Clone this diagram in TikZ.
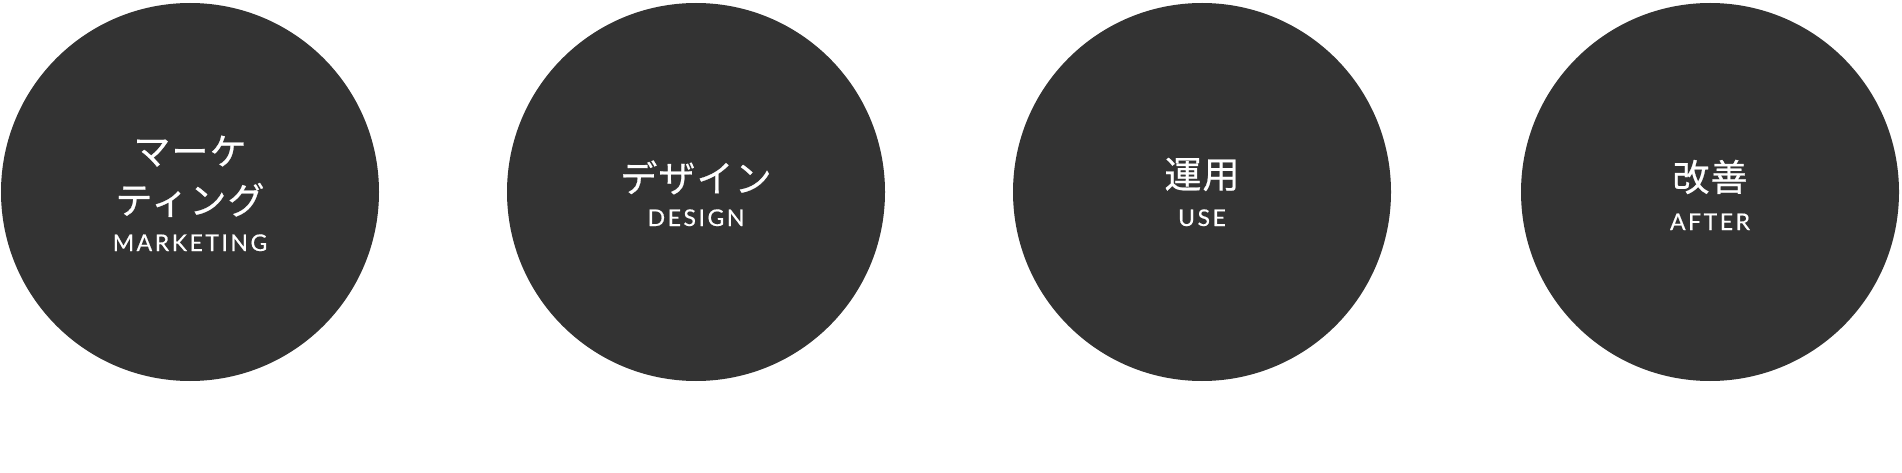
\documentclass[tikz,border=0pt]{standalone}
\usepackage{fontspec}
\setmainfont{Lato}
\newfontfamily\jpfont[LetterSpace=3,FakeBold=0.6]{Noto Sans CJK JP}
\newfontfamily\enfont[LetterSpace=11,FakeBold=0.5]{Lato}
\definecolor{disk}{HTML}{333333}
\begin{document}
\begin{tikzpicture}[x=1pt,y=1pt,
  disc/.style={circle,fill=disk,draw=none,minimum size=378pt,inner sep=0pt},
  jp/.style={text=white,inner sep=0pt,anchor=base,font=\jpfont\fontsize{37}{44}\selectfont},
  en/.style={text=white,inner sep=0pt,anchor=base,font=\enfont\fontsize{23}{27}\selectfont}]
\useasboundingbox (0,0) rectangle (1902,-473);
\node[disc] (c1) at (190,-192) {};
\node[disc] (c2) at (696,-192) {};
\node[disc] (c3) at (1202,-192) {};
\node[disc] (c4) at (1710,-192) {};
% circle 1
\node[jp] (t1a) at (190,-165) {マーケ};
\node[jp] (t1b) at (190,-214) {ティング};
\node[en] (e1) at (190,-251) {MARKETING};
% circle 2
\node[jp] (t2) at (696,-192) {デザイン};
\node[en] (e2) at (696,-226) {DESIGN};
% circle 3
\node[jp] (t3) at (1202,-188) {運用};
\node[en] (e3) at (1202,-226) {USE};
% circle 4
\node[jp] (t4) at (1710,-191) {改善};
\node[en] (e4) at (1710,-230) {AFTER};
\end{tikzpicture}
\end{document}
